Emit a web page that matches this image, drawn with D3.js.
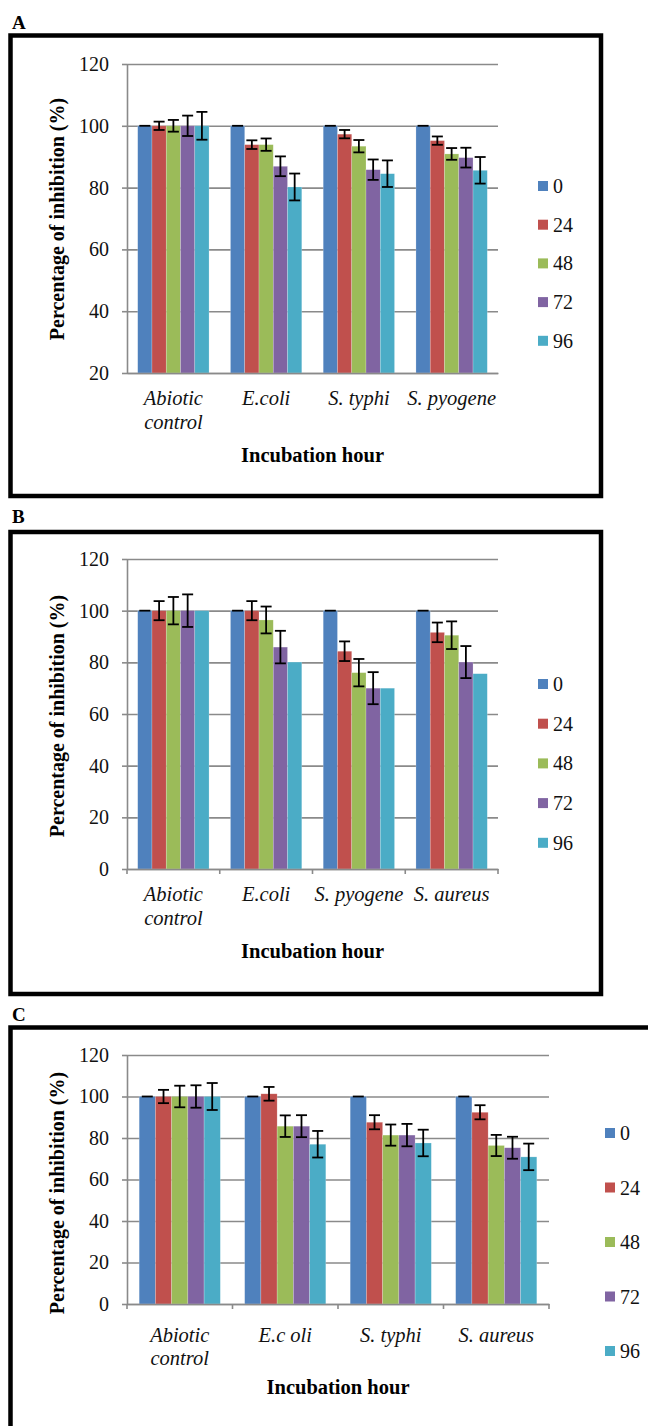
<!DOCTYPE html>
<html>
<head>
<meta charset="utf-8">
<script src="https://cdn.jsdelivr.net/npm/d3@7"></script>
<style>
  html, body { margin: 0; padding: 0; background: #fff; }
  svg { display: block; }
</style>
</head>
<body>
<svg id="chart" width="648" height="1426"></svg>
<script>
// ---------- DATA ----------
const seriesLabels = ["0", "24", "48", "72", "96"];
const colors = ["#4F81BD", "#C0504D", "#9BBB59", "#8064A2", "#4BACC6"];

// Panel A
const aCategories = ["Abiotic control", "E.coli", "S. typhi", "S. pyogene"];
const aYTicks = [20, 40, 60, 80, 100, 120];
const aValues = [
  [100, 100, 100, 100],
  [100, 93.9, 97.3, 95.2],
  [100, 93.9, 93.4, 90.9],
  [100, 86.9, 85.8, 89.7],
  [100, 80.2, 84.5, 85.6]
];
const aErrors = [
  [0, 0, 0, 0],
  [1.35, 1.4, 1.35, 1.35],
  [1.9, 2.0, 2.0, 1.9],
  [3.3, 3.2, 3.3, 3.2],
  [4.5, 4.35, 4.3, 4.3]
];

// Panel B
const bCategories = ["Abiotic control", "E.coli", "S. pyogene", "S. aureus"];
const bYTicks = [0, 20, 40, 60, 80, 100, 120];
const bValues = [
  [100, 100, 100, 100],
  [100, 100, 84.3, 91.6],
  [100, 96.4, 76.0, 90.5],
  [100, 85.9, 70.0, 80.1],
  [100, 80.1, 70.0, 75.6]
];
const bErrors = [
  [0, 0, 0, 0],
  [3.7, 3.7, 3.8, 3.8],
  [5.3, 5.2, 5.3, 5.35],
  [6.3, 6.3, 6.2, 6.2],
  null
];

// Panel C
const cCategories = ["Abiotic control", "E.c oli", "S. typhi", "S. aureus"];
const cYTicks = [0, 20, 40, 60, 80, 100, 120];
const cValues = [
  [100, 100, 100, 100],
  [100, 101.3, 87.6, 92.4],
  [100, 85.7, 81.4, 76.4],
  [100, 85.7, 81.4, 75.3],
  [100, 77.0, 77.6, 70.9]
];
const cErrors = [
  [0, 0, 0, 0],
  [3.2, 3.3, 3.4, 3.4],
  [5.2, 5.2, 5.1, 5.1],
  [5.4, 5.3, 5.4, 5.3],
  [6.5, 6.4, 6.4, 6.4]
];

// ---------- LAYOUT ----------
const FONT = "'Liberation Serif', Tinos, 'Times New Roman', Times, 'DejaVu Serif', serif";
const panels = [
  { letter: "A", letterY: 29, box: [10.5, 35.5, 590.5, 460.5],
    left: 127, right: 498, top: 64, bottom: 373,
    cats: aCategories, ticks: aYTicks, values: aValues, errors: aErrors,
    xTicks: false, lab1: 32, lab2: 56, titleY: 462, ytitleY: 219,
    legX: 538, legY: 186, legStep: 38.7 },
  { letter: "B", letterY: 523, box: [10.5, 532, 590.5, 462],
    left: 127, right: 498, top: 559, bottom: 869,
    cats: bCategories, ticks: bYTicks, values: bValues, errors: bErrors,
    xTicks: true, lab1: 32, lab2: 56, titleY: 958, ytitleY: 716,
    legX: 538, legY: 684, legStep: 39.7 },
  { letter: "C", letterY: 1021, box: [10.5, 1027.5, 800, 600],
    left: 127, right: 549, top: 1055, bottom: 1304,
    cats: cCategories, ticks: cYTicks, values: cValues, errors: cErrors,
    xTicks: true, lab1: 38, lab2: 61, titleY: 1394, ytitleY: 1193,
    legX: 605, legY: 1133, legStep: 54.5 }
];

const svg = d3.select("#chart").attr("font-family", FONT).style("font-family", FONT);
const gridColor = "#8a8a8a";

function serif(sel) { return sel.attr("font-family", FONT).style("font-family", FONT); }

panels.forEach(p => {
  const g = svg.append("g");

  // panel letter
  serif(g.append("text")).attr("x", 12).attr("y", p.letterY)
    .attr("font-size", 19).attr("font-weight", "bold").text(p.letter);

  // frame
  g.append("rect").attr("x", p.box[0]).attr("y", p.box[1])
    .attr("width", p.box[2]).attr("height", p.box[3])
    .attr("fill", "none").attr("stroke", "#000").attr("stroke-width", 4.5);

  const y = d3.scaleLinear()
    .domain(d3.extent(p.ticks))
    .range([p.bottom, p.top]);
  const x0 = d3.scaleBand().domain(p.cats).range([p.left, p.right]).padding(0);
  const band = x0.bandwidth();
  const barW = band / 6.5;
  const x1 = d3.scaleBand().domain(seriesLabels)
    .range([barW * 0.75, band - barW * 0.75]).padding(0);

  // gridlines
  g.append("g").attr("transform", `translate(${p.left},0)`)
    .call(d3.axisLeft(y).tickValues(p.ticks).tickSize(-(p.right - p.left)).tickFormat(""))
    .call(s => s.select(".domain").remove())
    .call(s => s.selectAll("line").attr("stroke", gridColor).attr("stroke-width", 1.6));

  // y axis
  g.append("g").attr("transform", `translate(${p.left},0)`)
    .call(d3.axisLeft(y).tickValues(p.ticks).tickSizeInner(5).tickSizeOuter(0).tickPadding(13))
    .attr("font-family", FONT)
    .call(s => s.select(".domain").attr("stroke", gridColor).attr("stroke-width", 1.6))
    .call(s => s.selectAll("line").attr("stroke", gridColor).attr("stroke-width", 1.6))
    .call(s => serif(s.selectAll("text")).attr("font-size", 20).attr("fill", "#111"));

  // bars
  p.values.forEach((vals, si) => {
    g.append("g").selectAll("rect").data(vals).join("rect")
      .attr("x", (d, i) => x0(p.cats[i]) + x1(seriesLabels[si]))
      .attr("y", d => y(d))
      .attr("width", x1.bandwidth())
      .attr("height", d => y(y.domain()[0]) - y(d))
      .attr("fill", colors[si])
      .attr("stroke", "#ffffff").attr("stroke-opacity", 0.35).attr("stroke-width", 0.6);
  });

  // x axis line
  g.append("g").attr("transform", `translate(0,${p.bottom})`)
    .call(d3.axisBottom(x0).tickSize(0).tickFormat(""))
    .call(s => s.select(".domain").attr("stroke", gridColor).attr("stroke-width", 1.6));

  if (p.xTicks) {
    const bounds = p.cats.map(c => x0(c)).concat([x0.range()[1]]);
    g.append("g").selectAll("line").data(bounds).join("line")
      .attr("x1", d => d).attr("x2", d => d)
      .attr("y1", p.bottom).attr("y2", p.bottom + 5)
      .attr("stroke", gridColor).attr("stroke-width", 1.6);
  }

  // error bars
  const cap = 11;
  p.errors.forEach((errs, si) => {
    if (!errs) return;
    const eg = g.append("g").attr("stroke", "#000").attr("stroke-width", 1.8);
    errs.forEach((e, i) => {
      const v = p.values[si][i];
      const cx = x0(p.cats[i]) + x1(seriesLabels[si]) + x1.bandwidth() / 2;
      const yt = y(v + e), yb = y(v - e);
      if (e > 0) {
        eg.append("line").attr("x1", cx).attr("x2", cx).attr("y1", yt).attr("y2", yb);
        eg.append("line").attr("x1", cx - cap / 2).attr("x2", cx + cap / 2).attr("y1", yb).attr("y2", yb);
      }
      eg.append("line").attr("x1", cx - cap / 2).attr("x2", cx + cap / 2).attr("y1", yt).attr("y2", yt);
    });
  });

  // category labels (wrapped when too wide)
  p.cats.forEach(c => {
    const cx = x0(c) + band / 2;
    const t = serif(g.append("text")).attr("x", cx).attr("y", p.bottom + p.lab1)
      .attr("text-anchor", "middle").attr("font-size", 20.5)
      .attr("font-style", "italic").attr("fill", "#111").text(c);
    if (t.node().getComputedTextLength() > band * 1.15) {
      const words = c.split(" ");
      t.text(null);
      t.append("tspan").attr("x", cx).attr("y", p.bottom + p.lab1).text(words[0]);
      t.append("tspan").attr("x", cx).attr("y", p.bottom + p.lab2).text(words.slice(1).join(" "));
    }
  });

  // x title
  serif(g.append("text")).attr("x", (p.left + p.right) / 2).attr("y", p.titleY)
    .attr("text-anchor", "middle").attr("font-size", 20.5).attr("font-weight", "bold")
    .text("Incubation hour");

  // y title
  serif(g.append("text")).attr("transform", `translate(64,${p.ytitleY}) rotate(-90)`)
    .attr("text-anchor", "middle").attr("font-size", 20).attr("font-weight", "bold")
    .text("Percentage of inhibition (%)");

  // legend
  const lg = g.append("g");
  seriesLabels.forEach((s, i) => {
    const cy = p.legY + i * p.legStep;
    lg.append("rect").attr("x", p.legX).attr("y", cy - 5).attr("width", 10).attr("height", 10)
      .attr("fill", colors[i]);
    serif(lg.append("text")).attr("x", p.legX + 15).attr("y", cy + 7)
      .attr("font-size", 20).attr("fill", "#111").text(s);
  });
});
</script>
</body>
</html>
